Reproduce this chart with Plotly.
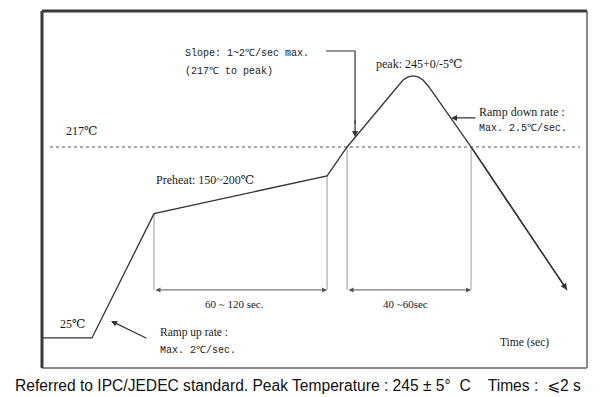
import plotly.graph_objects as go

# Reflow profile (schematic), time in s, temperature in degC
profile_time = [0, 33.0, 74.0, 188.3, 201.5, 218.0, 234.5, 238.5, 241.8, 245.1, 248.4, 251.7, 255.6, 283.4, 346.8]
profile_temp = [25, 25, 150, 188, 217, 247.2, 277.3, 284.3, 287.4, 288.4, 287.4, 284.3, 277.3, 217, 73.3]

liquidus_temp = 217
liquidus_span = [5.3, 355.4]
preheat_window = [74.0, 188.3]
liquidus_window = [201.5, 283.4]
dim_level = 73.3

SERIF = "Liberation Serif, Times New Roman, DejaVu Serif, serif"
MONO = "Liberation Mono, Courier New, DejaVu Sans Mono, monospace"
SANS = "Liberation Sans, Arial, DejaVu Sans, sans-serif"
INK = "#333333"

fig = go.Figure()

# liquidus dotted line
fig.add_trace(go.Scatter(x=liquidus_span, y=[liquidus_temp, liquidus_temp], mode="lines",
                         line=dict(color="#555555", width=1.2, dash="dot"), hoverinfo="skip"))

# vertical guide lines
guides = [(preheat_window[0], profile_temp[2]), (preheat_window[1], profile_temp[3]),
          (liquidus_window[0], liquidus_temp), (liquidus_window[1], liquidus_temp)]
for gx, gy in guides:
    fig.add_trace(go.Scatter(x=[gx, gx], y=[gy, dim_level], mode="lines",
                             line=dict(color="#9a9a9a", width=1), hoverinfo="skip"))

# profile curve
fig.add_trace(go.Scatter(x=profile_time, y=profile_temp, mode="lines",
                         line=dict(color=INK, width=1.3), hoverinfo="skip"))

ann = []
# arrowhead at curve end
ann.append(dict(x=profile_time[-1], y=profile_temp[-1], ax=profile_time[-2], ay=profile_temp[-2],
                xref="x", yref="y", axref="x", ayref="y", text="", showarrow=True,
                arrowhead=2, arrowsize=1, arrowwidth=1.3, arrowcolor=INK))
# dimension arrows
for a, b in (preheat_window, liquidus_window):
    ann.append(dict(x=b, y=dim_level, ax=a, ay=dim_level, xref="x", yref="y", axref="x", ayref="y",
                    text="", showarrow=True, arrowhead=2, startarrowhead=2, arrowside="end+start",
                    arrowsize=1, startarrowsize=1, arrowwidth=1, arrowcolor="#555555"))
# ramp up arrow
ann.append(dict(x=45.6, y=42.1, ax=70.0, ay=24.0, xref="x", yref="y", axref="x", ayref="y",
                text="", showarrow=True, arrowhead=2, arrowsize=1, arrowwidth=1.2, arrowcolor=INK))
# ramp down arrow
ann.append(dict(x=270.2, y=246.2, ax=287.3, ay=246.2, xref="x", yref="y", axref="x", ayref="y",
                text="", showarrow=True, arrowhead=2, arrowsize=1, arrowwidth=1.2, arrowcolor=INK))
# slope arrow (elbow)
fig.add_trace(go.Scatter(x=[187.6, 206.8, 206.8], y=[313.5, 313.5, 240], mode="lines",
                         line=dict(color=INK, width=1.2), hoverinfo="skip"))
ann.append(dict(x=206.8, y=227.1, ax=206.8, ay=245, xref="x", yref="y", axref="x", ayref="y",
                text="", showarrow=True, arrowhead=2, arrowsize=1, arrowwidth=1.2, arrowcolor=INK))

def label(x, y, text, font, size, xanchor="left"):
    ann.append(dict(x=x, y=y, xref="x", yref="y", text=text, showarrow=False,
                    xanchor=xanchor, yanchor="middle", font=dict(family=font, size=size, color="#1a1a1a")))

label(93.1, 310.5, "Slope: 1~2℃/sec max.", MONO, 10)
label(93.1, 292.4, "(217℃ to peak)", MONO, 10)
label(219.3, 300.4, "peak: 245+0/-5℃", SERIF, 12)
label(287.3, 252.2, "Ramp down rate :", SERIF, 12)
label(287.3, 235.1, "Max. 2.5℃/sec.", MONO, 10)
label(14.5, 233.1, "217℃", SERIF, 12)
label(74.0, 183.8, "Preheat: 150~200℃", SERIF, 12)
label(10.6, 39.1, "25℃", SERIF, 12)
label(76.6, 30.0, "Ramp up rate :", SERIF, 11.5)
label(76.6, 11.9, "Max. 2℃/sec.", MONO, 10)
label(127.0, 59.2, "60 ~ 120 sec.", SERIF, 11, "center")
label(240.0, 59.2, "40 ~60sec", SERIF, 11, "center")
label(318.4, 20.0, "Time (sec)", SERIF, 11.5, "center")

ann.append(dict(x=0.47, y=-0.048, xref="paper", yref="paper", showarrow=False,
                text="Referred to IPC/JEDEC standard. Peak Temperature : 245\u00a0±\u00a05°\u00a0 C\u00a0\u00a0\u00a0 Times :\u00a0 ⩽2 s",
                xanchor="center", yanchor="middle", font=dict(family=SANS, size=15.6, color="#111111")))

# frame
shapes = [
    dict(type="line", xref="paper", yref="paper", x0=0, y0=0, x1=1, y1=0, line=dict(color="#8a8a8a", width=2)),
    dict(type="line", xref="paper", yref="paper", x0=1, y0=0, x1=1, y1=1, line=dict(color="#8a8a8a", width=2)),
    dict(type="line", xref="paper", yref="paper", x0=0, y0=1, x1=1, y1=1, line=dict(color="#3a3a3a", width=3)),
    dict(type="line", xref="paper", yref="paper", x0=0, y0=0, x1=0, y1=1, line=dict(color="#3a3a3a", width=3)),
]

fig.update_layout(
    width=608, height=397,
    margin=dict(l=42, r=21, t=11, b=29),
    paper_bgcolor="white", plot_bgcolor="white",
    showlegend=False, hovermode=False,
    xaxis=dict(range=[0, 360], visible=False, fixedrange=True),
    yaxis=dict(range=[-5.2, 353.7], visible=False, fixedrange=True),
    annotations=ann, shapes=shapes,
)

fig.write_html("out.html", config={"displayModeBar": False},
               post_script="document.body.style.margin='0';document.body.style.overflow='hidden';")
